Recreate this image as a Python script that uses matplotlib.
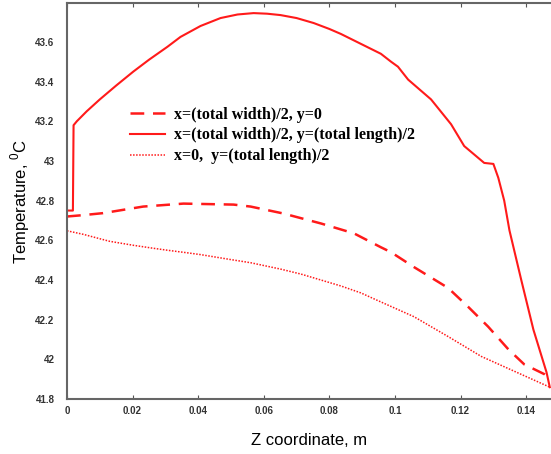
import numpy as np
import matplotlib.pyplot as plt

# temperature profiles along z (m), degrees C
z_mid_y0 = [0.0, 0.005, 0.011, 0.0232, 0.0355, 0.0508, 0.056, 0.066, 0.0774, 0.0875,
            0.0957, 0.0988, 0.1058, 0.1162, 0.1223, 0.1284, 0.1346, 0.1394, 0.1456,
            0.1472]
t_mid_y0 = [42.72, 42.727, 42.737, 42.77, 42.785, 42.78, 42.77, 42.735, 42.685, 42.635,
            42.565, 42.54, 42.465, 42.36, 42.265, 42.165, 42.05, 41.975, 41.925,
            41.9]

z_mid_mid = [0.0, 0.0018, 0.0020, 0.003, 0.006, 0.010, 0.0150, 0.0202, 0.0250, 0.0306,
             0.0346, 0.0407, 0.0468, 0.0520, 0.0569, 0.0610, 0.0651, 0.070, 0.0752,
             0.0800, 0.0835, 0.0896, 0.0957, 0.0988, 0.1009, 0.104, 0.111, 0.1171,
             0.1211, 0.1272, 0.1300, 0.1315, 0.1333, 0.1349, 0.1385, 0.1422, 0.1462,
             0.1472]
t_mid_mid = [42.75, 42.75, 43.18, 43.2, 43.25, 43.31, 43.38, 43.45, 43.51, 43.575,
             43.625, 43.68, 43.72, 43.738, 43.745, 43.742, 43.735, 43.72, 43.695,
             43.665, 43.64, 43.59, 43.54, 43.5, 43.475, 43.41, 43.31, 43.185,
             43.075, 42.99, 42.985, 42.915, 42.8, 42.65, 42.4, 42.15, 41.935,
             41.86]

z_edge_mid = [0.0, 0.005, 0.010, 0.013, 0.0202, 0.0263, 0.0306, 0.0367, 0.0407, 0.0499,
              0.056, 0.0651, 0.0713, 0.0774, 0.0835, 0.0896, 0.0936, 0.1058, 0.1162,
              0.1263, 0.1364, 0.1472]
t_edge_mid = [42.648, 42.63, 42.608, 42.595, 42.575, 42.56, 42.55, 42.537, 42.528, 42.503,
              42.487, 42.455, 42.43, 42.4, 42.37, 42.335, 42.305, 42.215, 42.115,
              42.015, 41.94, 41.86]

x_ticks = [0, 0.02, 0.04, 0.06, 0.08, 0.1, 0.12, 0.14]
x_tick_labels = ["0", "0.02", "0.04", "0.06", "0.08", "0.1", "0.12", "0.14"]
y_ticks = [41.8, 42, 42.2, 42.4, 42.6, 42.8, 43, 43.2, 43.4, 43.6]
y_tick_labels = ["41.8", "42", "42.2", "42.4", "42.6", "42.8", "43", "43.2", "43.4", "43.6"]

fig = plt.figure(figsize=(5.51, 4.54), dpi=100)
ax = fig.add_axes([0.1216, 0.121, 0.878, 0.872])

red = "#ff1a1a"
ax.plot(z_mid_y0, t_mid_y0, color=red, lw=1.8, dashes=(5.5, 3.5),
        label="x=(total width)/2, y=0")
ax.plot(z_mid_mid, t_mid_mid, color=red, lw=1.5,
        label="x=(total width)/2, y=(total length)/2")
ax.plot(z_edge_mid, t_edge_mid, color=red, lw=1.1, ls=(0, (1, 1)),
        label="x=0,  y=(total length)/2")

ax.set_xlim(0, 0.1475)
ax.set_ylim(41.8, 43.795)
ax.set_xticks(x_ticks)
ax.set_xticklabels(x_tick_labels)
ax.set_yticks(y_ticks)
ax.set_yticklabels(y_tick_labels)

for lab in ax.get_xticklabels() + ax.get_yticklabels():
    lab.set_fontsize(7)
    lab.set_color("#333333")
    lab.set_fontweight("bold")
    lab.set_family("Liberation Sans")

ax.tick_params(axis="x", direction="in", length=3, width=0.8, color="#555555",
               top=True, pad=5)
ax.tick_params(axis="y", length=0, pad=9)

ax.spines["right"].set_visible(False)
for side in ["left", "top", "bottom"]:
    ax.spines[side].set_color("#666666")
    ax.spines[side].set_linewidth(1.5)

ax.set_xlabel("Z coordinate, m", fontsize=12, family="Liberation Sans", labelpad=12)
ax.set_ylabel("Temperature, $^{\\mathregular{0}}$C", fontsize=12,
              family="Liberation Sans", labelpad=2)

ax.legend(loc="upper left", bbox_to_anchor=(0.1, 0.775), frameon=False,
          handlelength=2.2, handletextpad=0.6, labelspacing=0.3,
          prop={"family": "Liberation Serif", "weight": "bold", "size": 11.5})

fig.savefig("out.png", dpi=100)
